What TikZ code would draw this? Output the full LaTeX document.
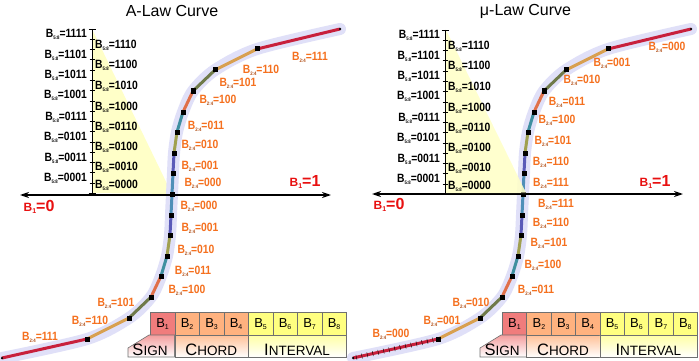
\documentclass[tikz,border=0pt]{standalone}
\usepackage{fontspec}
\setmainfont{Liberation Sans}
\newfontfamily\narrowbold[FakeStretch=0.86]{Liberation Sans Bold}
\usetikzlibrary{arrows.meta,decorations.markings}
\definecolor{segA}{HTML}{4F8FB8}
\definecolor{segB}{HTML}{5A5AB8}
\definecolor{segC}{HTML}{A0A050}
\definecolor{segD}{HTML}{3F8FA0}
\definecolor{segE}{HTML}{E0704A}
\definecolor{segF}{HTML}{6F7A4A}
\definecolor{segG}{HTML}{D8A050}
\definecolor{segH}{HTML}{C8203C}
\definecolor{glowc}{HTML}{E0E0F8}
\definecolor{triy}{HTML}{FFFFC8}
\definecolor{labor}{HTML}{F5701E}
\definecolor{subor}{HTML}{B04A10}
\definecolor{redl}{HTML}{E81010}
\definecolor{cellred}{HTML}{F07C7C}
\definecolor{cellor}{HTML}{FFB27F}
\definecolor{cellye}{HTML}{FFFF80}
\definecolor{bordc}{HTML}{707070}
\newcommand\osub[1]{\raisebox{-0.35ex}{\fontsize{5}{5}\selectfont\color{subor}#1}}
\newcommand\ksub[1]{\raisebox{-0.35ex}{\fontsize{5}{5}\selectfont #1}}
\newcommand\olb[1]{B\osub{2:4}=#1}
\newcommand\klb[1]{B\ksub{5:8}=#1}
\newcommand\cb[1]{B\raisebox{-0.3ex}{\fontsize{7}{7}\selectfont #1}}
\newcommand\bone[1]{{\fontsize{12}{12}\selectfont B\raisebox{-0.3ex}{\fontsize{7}{7}\selectfont 1}\fontsize{16}{16}\selectfont =#1}}
\newcommand\bigsc[2]{{\fontsize{16.5}{16.5}\selectfont #1}{\fontsize{13.5}{13.5}\selectfont #2}}
\tikzset{
  glow/.style={line width=12pt, glowc, line cap=round, line join=round},
  seg/.style={line width=3pt},
  sq/.style={fill=black, inner sep=0, minimum size=5pt},
  enddot/.style={fill=black, circle, inner sep=0, minimum size=2.5pt},
  olabel/.style={font=\narrowbold\fontsize{12}{12}\selectfont, text=labor, inner sep=0},
  klabel/.style={font=\narrowbold\fontsize{12}{12}\selectfont, text=black, inner sep=0},
  axisline/.style={line width=1.3pt, {Stealth[length=9pt,width=6pt]}-{Stealth[length=9pt,width=6pt]}},
  title/.style={font=\fontsize{16}{16}\selectfont, inner sep=0},
  bonel/.style={font=\bfseries, text=redl, inner sep=0},
  cell/.style={draw=bordc, line width=0.6pt, minimum width=24.5pt, minimum height=23pt, anchor=north west, inner sep=0, font=\fontsize{13}{13}\selectfont},
  cell2/.style={draw=bordc, line width=0.6pt, minimum height=22pt, anchor=north west, inner sep=0},
  rulerl/.style={line width=0.7pt, black},
}
\newcommand\curvepts[3]{%
  \begin{scope}[shift={(#2,#3)}]
  \coordinate (#1c) at (0,0);
  \coordinate (#1u1) at (1,-21);
  \coordinate (#1u2) at (2,-41);
  \coordinate (#1u3) at (5,-62);
  \coordinate (#1u4) at (11,-82);
  \coordinate (#1u5) at (21,-103);
  \coordinate (#1u6) at (43,-124);
  \coordinate (#1u7) at (85,-145);
  \coordinate (#1u8) at (168,-165);
  \coordinate (#1d1) at (-1,21);
  \coordinate (#1d2) at (-2,41);
  \coordinate (#1d3) at (-5,62);
  \coordinate (#1d4) at (-11,82);
  \coordinate (#1d5) at (-21,103);
  \coordinate (#1d6) at (-43,124);
  \coordinate (#1d7) at (-85,145);
  \coordinate (#1d8) at (-170,164);
  \end{scope}}
\newcommand\glowcurve[1]{%
  \draw[glow] plot[smooth, tension=0.5] coordinates {(#1d8) (#1d7) (#1d6) (#1d5) (#1d4) (#1d3) (#1d2) (#1d1) (#1c) (#1u1) (#1u2) (#1u3) (#1u4) (#1u5) (#1u6) (#1u7) (#1u8)};}
\newcommand\segcurve[1]{%
  \draw[seg, segA] (#1c) -- (#1u1);
  \draw[seg, segB] (#1u1) -- (#1u2);
  \draw[seg, segC] (#1u2) -- (#1u3);
  \draw[seg, segD] (#1u3) -- (#1u4);
  \draw[seg, segE] (#1u4) -- (#1u5);
  \draw[seg, segF] (#1u5) -- (#1u6);
  \draw[seg, segG] (#1u6) -- (#1u7);
  \draw[seg, segH] (#1u7) -- (#1u8);
  \draw[seg, segA] (#1c) -- (#1d1);
  \draw[seg, segB] (#1d1) -- (#1d2);
  \draw[seg, segC] (#1d2) -- (#1d3);
  \draw[seg, segD] (#1d3) -- (#1d4);
  \draw[seg, segE] (#1d4) -- (#1d5);
  \draw[seg, segF] (#1d5) -- (#1d6);
  \draw[seg, segG] (#1d6) -- (#1d7);
  \draw[seg, segH] (#1d7) -- (#1d8);}
\newcommand\sqnodes[1]{%
  \foreach \n in {c,u1,u2,u3,u4,u5,u6,u7,d1,d2,d3,d4,d5,d6,d7} {\node[sq] (#1sq\n) at (#1\n) {};}
  \node[enddot] (#1endu) at (#1u8) {};
  \node[enddot] (#1endd) at (#1d8) {};}
% ruler and black labels: prefix, ruler x, dy
\newcommand\rulerlabels[3]{%
  \coordinate (#1rt) at (#2,29+#3);
  \coordinate (#1rb) at (#2,193+#3);
  \draw[rulerl] (#1rt) -- (#1rb);
  \draw[rulerl] ([xshift=-3.5pt]#1rt) -- ([xshift=3.5pt]#1rt);
  \draw[rulerl] ([xshift=-3.5pt]#1rb) -- ([xshift=3.5pt]#1rb);
  \foreach \k in {1,...,15} {\draw[rulerl, line width=0.5pt] ([xshift=-2.5pt, yshift=-\k*10.25pt]#1rt) -- ([xshift=2.5pt, yshift=-\k*10.25pt]#1rt);}
  \node[klabel, anchor=east] (#1k1111) at (#2-5,34.5+#3) {\klb{1111}};
  \node[klabel, anchor=east] (#1k1101) at (#2-5,55+#3) {\klb{1101}};
  \node[klabel, anchor=east] (#1k1011) at (#2-5,75+#3) {\klb{1011}};
  \node[klabel, anchor=east] (#1k1001) at (#2-5,95.5+#3) {\klb{1001}};
  \node[klabel, anchor=east] (#1k0111) at (#2-5,117+#3) {\klb{0111}};
  \node[klabel, anchor=east] (#1k0101) at (#2-5,137+#3) {\klb{0101}};
  \node[klabel, anchor=east] (#1k0011) at (#2-5,158+#3) {\klb{0011}};
  \node[klabel, anchor=east] (#1k0001) at (#2-5,178+#3) {\klb{0001}};
  \node[klabel, anchor=west] (#1k1110) at (#2+3,45.5+#3) {\klb{1110}};
  \node[klabel, anchor=west] (#1k1100) at (#2+3,65.5+#3) {\klb{1100}};
  \node[klabel, anchor=west] (#1k1010) at (#2+3,86+#3) {\klb{1010}};
  \node[klabel, anchor=west] (#1k1000) at (#2+3,107+#3) {\klb{1000}};
  \node[klabel, anchor=west] (#1k0110) at (#2+3,127+#3) {\klb{0110}};
  \node[klabel, anchor=west] (#1k0100) at (#2+3,147+#3) {\klb{0100}};
  \node[klabel, anchor=west] (#1k0010) at (#2+3,167+#3) {\klb{0010}};
  \node[klabel, anchor=west] (#1k0000) at (#2+3,185+#3) {\klb{0000}};}
% table: prefix, x0, cell width
\newcommand\bittable[3]{%
  \foreach \i/\c in {1/cellred,2/cellor,3/cellor,4/cellor,5/cellye,6/cellye,7/cellye,8/cellye}
    {\node[cell, fill=\c, minimum width=#3pt] (#1b\i) at ({#2+(\i-1)*#3},312) {\cb{\i}};}
  \shade[top color=cellred!75, bottom color=white] (#2-22,357) -- (#2-22,348) -- (#2-1,335) -- (#2+#3,335) -- (#2+#3,357) -- cycle;
  \draw[draw=bordc, line width=0.6pt] (#2-22,357) -- (#2-22,348) -- (#2-1,335) -- (#2+#3,335) -- (#2+#3,357) -- cycle;
  \node[inner sep=0, anchor=base] (#1sign) at (#2,355.5) {\bigsc{S}{IGN}};
  \node[cell2, top color=cellor!80, bottom color=white, minimum width=3*#3pt] (#1chord) at (#2+#3,335) {};
  \node[inner sep=0, anchor=base] (#1chordt) at (#2+2.5*#3,355.5) {\bigsc{C}{HORD}};
  \node[cell2, top color=cellye!70, bottom color=white, minimum width=4*#3pt] (#1intv) at (#2+4*#3,335) {};
  \node[inner sep=0, anchor=base] (#1intvt) at (#2+6*#3,355.5) {\bigsc{I}{NTERVAL}};}
\begin{document}
\begin{tikzpicture}[x=1pt,y=-1pt]
\useasboundingbox (0,0) rectangle (699,361);
\fill[white] (0,0) rectangle (699,361);
% ================= A-law =================
\node[title] (tA) at (172,11) {A-Law Curve};
\curvepts{A}{172}{194}
\coordinate (Atri1) at (92,29);
\coordinate (Atri2) at (92,193);
\fill[triy] (Atri1) -- (Atri2) -- (Ac) -- cycle;
\glowcurve{A}
\segcurve{A}
\coordinate (AaxL) at (20,195);
\coordinate (AaxR) at (331,195);
\draw[axisline] (AaxL) -- (AaxR);
\sqnodes{A}
\rulerlabels{A}{92}{0}
\node[bonel] (Ab0) at (39,207) {\bone{0}};
\node[bonel] (Ab1) at (305,182) {\bone{1}};
\node[olabel] (Au111) at (310,57) {\olb{111}};
\node[olabel] (Au110) at (261,70) {\olb{110}};
\node[olabel] (Au101) at (238,83) {\olb{101}};
\node[olabel] (Au100) at (218,100) {\olb{100}};
\node[olabel] (Au011) at (206,126) {\olb{011}};
\node[olabel] (Au010) at (200,145) {\olb{010}};
\node[olabel] (Au001) at (200,166) {\olb{001}};
\node[olabel] (Au000) at (203,183) {\olb{000}};
\node[olabel] (Ad000) at (199,206) {\olb{000}};
\node[olabel] (Ad001) at (200,228) {\olb{001}};
\node[olabel] (Ad010) at (196,250) {\olb{010}};
\node[olabel] (Ad011) at (193,271) {\olb{011}};
\node[olabel] (Ad100) at (187,290) {\olb{100}};
\node[olabel] (Ad101) at (116,303) {\olb{101}};
\node[olabel] (Ad110) at (90,321) {\olb{110}};
\node[olabel] (Ad111) at (40,337) {\olb{111}};
\bittable{A}{150}{24.5}
% ================= mu-law =================
\node[title] (tM) at (525.5,11) {μ-Law Curve};
\curvepts{M}{523}{194}
\glowcurve{M}
\segcurve{M}
\draw[line width=0.6pt, black, decorate, decoration={markings, mark=between positions 0.04 and 0.97 step 5.6pt with {\draw (0,-2.5pt) -- (0,2.5pt);}}] (Md8) -- (Md7);
\coordinate (Mtri1) at (446,30);
\coordinate (Mtri2) at (446,193);
\coordinate (Mtri3) at (526,193);
\fill[triy, opacity=0.75] (Mtri1) -- (Mtri2) -- (Mtri3) -- cycle;
\coordinate (MaxL) at (372,194);
\coordinate (MaxR) at (683,194);
\draw[axisline] (MaxL) -- (MaxR);
\sqnodes{M}
\fill[triy, opacity=0.5] (Mtri1) -- (Mtri2) -- (Mtri3) -- cycle;
\rulerlabels{M}{445}{1}
\node[bonel] (Mb0) at (389,205) {\bone{0}};
\node[bonel] (Mb1) at (655,182) {\bone{1}};
\node[olabel] (Mu000) at (667,47) {\olb{000}};
\node[olabel] (Mu001) at (612,63) {\olb{001}};
\node[olabel] (Mu010) at (582,80) {\olb{010}};
\node[olabel] (Mu011) at (567,102) {\olb{011}};
\node[olabel] (Mu100) at (557,120) {\olb{100}};
\node[olabel] (Mu101) at (553,141) {\olb{101}};
\node[olabel] (Mu110) at (551,162) {\olb{110}};
\node[olabel] (Mu111) at (551,183) {\olb{111}};
\node[olabel] (Md111) at (556,204) {\olb{111}};
\node[olabel] (Md110) at (551,223) {\olb{110}};
\node[olabel] (Md101) at (549,243) {\olb{101}};
\node[olabel] (Md100) at (543,265) {\olb{100}};
\node[olabel] (Md011) at (536,290) {\olb{011}};
\node[olabel] (Md010) at (471,303) {\olb{010}};
\node[olabel] (Md001) at (442,321) {\olb{001}};
\node[olabel] (Md000) at (391,334) {\olb{000}};
\bittable{M}{502}{24.4}
\end{tikzpicture}
\end{document}
